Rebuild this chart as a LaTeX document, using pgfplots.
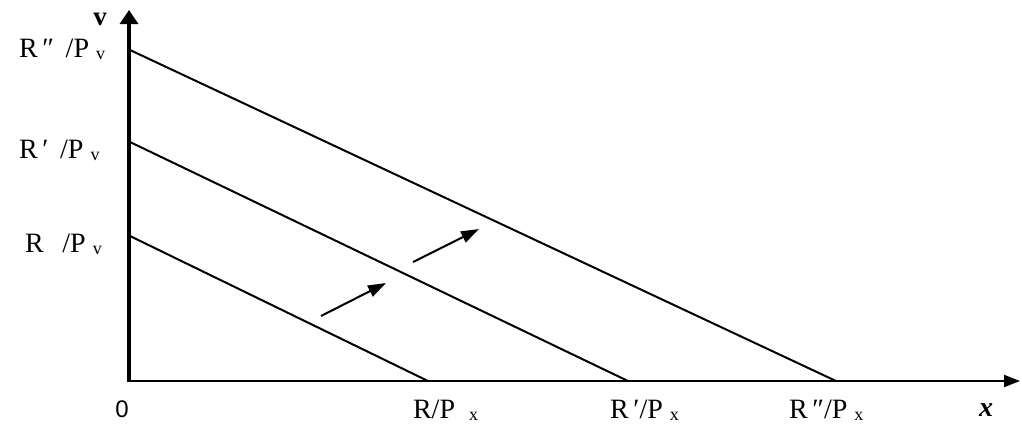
\documentclass[border=0pt]{standalone}
\usepackage{pgfplots}
\pgfplotsset{compat=1.18}
\usepackage{fontspec}
\setmainfont{Liberation Serif}
\newfontfamily\arial{Liberation Sans}
\usetikzlibrary{arrows.meta}
\newcommand{\sub}[1]{\raisebox{-1pt}{\fontsize{9}{10}\selectfont #1}}
\begin{document}
\begin{tikzpicture}
\begin{axis}[
  scale only axis, width=511pt, height=212.5pt,
  xmin=0, xmax=1022, ymin=0, ymax=425, y dir=reverse,
  hide axis, clip=false,
]
\coordinate (ll) at (axis cs:0,425);
\coordinate (ur) at (axis cs:1022,0);
% axes
\addplot[black, line width=1.6pt, -{Triangle[length=7pt,width=9pt]}] coordinates {(129,382) (129,10)};
\addplot[black, line width=1pt, -{Triangle[length=8pt,width=6pt]}] coordinates {(128,381) (1020,381)};
% budget lines
\addplot[black, line width=1pt] coordinates {(130,236) (428,381)};
\addplot[black, line width=1pt] coordinates {(130,142) (628,381)};
\addplot[black, line width=1pt] coordinates {(130,50) (836,381)};
% shift arrows
\addplot[black, line width=1pt, -{Triangle[length=9pt,width=6pt]}] coordinates {(321,316) (386,283)};
\addplot[black, line width=1pt, -{Triangle[length=9pt,width=6pt]}] coordinates {(413,262) (479,229)};
% labels
\node[font=\fontsize{13.5}{14}\selectfont\bfseries] at (axis cs:100,19) {v};
\node[anchor=west, font=\fontsize{14}{15}\selectfont] at (axis cs:12,49) {R\,″\ \,/P\ \sub{v}};
\node[anchor=west, font=\fontsize{14}{15}\selectfont] at (axis cs:12,150) {R\,′\ \,/P\ \sub{v}};
\node[anchor=west, font=\fontsize{14}{15}\selectfont] at (axis cs:18,244) {R\ \ \,/P\ \sub{v}};
\node[anchor=north, font=\arial\fontsize{12}{13}\selectfont] at (axis cs:122,394) {0};
\node[anchor=west, font=\fontsize{14}{15}\selectfont] at (axis cs:406,410) {R/P\ \ \sub{x}};
\node[anchor=west, font=\fontsize{14}{15}\selectfont] at (axis cs:603,410) {R\,′/P\ \sub{x}};
\node[anchor=west, font=\fontsize{14}{15}\selectfont] at (axis cs:782,410) {R\,″/P\ \sub{x}};
\node[font=\fontsize{14}{15}\selectfont\bfseries\itshape] at (axis cs:986,410) {x};
\end{axis}
\pgfresetboundingbox
\path[use as bounding box] (ll) rectangle (ur);
\end{tikzpicture}
\end{document}
